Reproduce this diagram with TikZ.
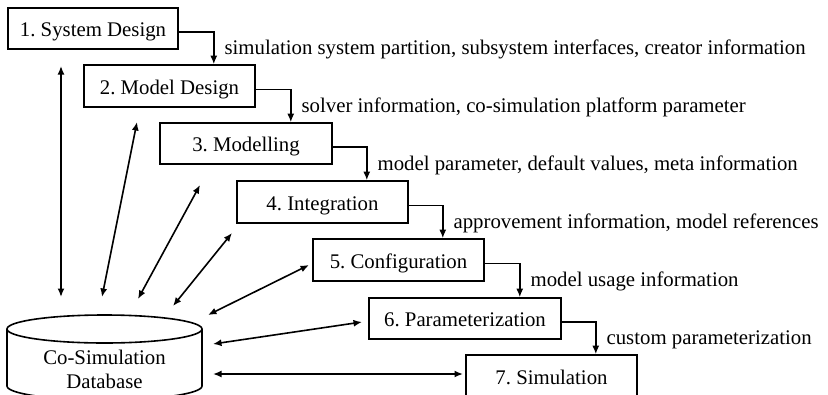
\documentclass[tikz,border=0pt]{standalone}
\usepackage{fontspec}
\setmainfont{Liberation Serif}
\frenchspacing
\usetikzlibrary{arrows.meta,calc}
\begin{document}
\begin{tikzpicture}[x=1pt,y=-1pt,
  every node/.style={font=\fontsize{20.8}{25}\selectfont},
  stagebox/.style={draw, line width=1.6pt, minimum width=171pt, minimum height=42pt, inner sep=0pt,
                   text height=16.7pt, text depth=0pt},
  flow/.style={line width=1.6pt, -{Latex[length=8.5pt,width=7pt]}},
  link/.style={line width=1.6pt, {Latex[length=8.5pt,width=7pt]}-{Latex[length=8.5pt,width=7pt]}},
  flowlabel/.style={anchor=west, inner sep=0pt}]
\clip (0,0) rectangle (828,394);
\useasboundingbox (0,0) rectangle (828,394);

% process stages
\node[stagebox, minimum width=170pt, minimum height=41pt] (b1) at (93,28.5) {1. System Design};
\node[stagebox] (b2) at (169.5,86) {2. Model Design};
\node[stagebox, minimum width=172pt, minimum height=41pt] (b3) at (246,143.5) {3. Modelling};
\node[stagebox] (b4) at (322.5,202) {4. Integration};
\node[stagebox] (b5) at (398.5,260) {5. Configuration};
\node[stagebox, minimum width=192pt, minimum height=41pt] (b6) at (465,318.5) {6. Parameterization};
\node[stagebox] (b7) at (551.5,376) {7. Simulation};

% hand-over between stages
\foreach \a/\b/\txt in {b1/b2/{simulation system partition, subsystem interfaces, creator information},
                        b2/b3/{solver information, co-simulation platform parameter},
                        b3/b4/{model parameter, default values, meta information},
                        b4/b5/{approvement information, model references},
                        b5/b6/{model usage information},
                        b6/b7/{custom parameterization}}{
  \draw[flow] ([yshift=-3.5pt]\a.east) -| ([xshift=-42pt]\b.north east)
    node[pos=0.75, right=10pt, yshift=-1.5pt, flowlabel] {\txt};
}

% database cylinder
\draw[line width=1.6pt] (104.5,329) ellipse [x radius=97.5, y radius=14];
\draw[line width=1.6pt] (7,329) -- (7,386) arc[start angle=180, end angle=360, x radius=97.5, y radius=-14] -- (202,329);
\node[align=center] (db) at (104.5,369.5) {Co-Simulation\\[-0.5pt]Database};

% exchange between stages and database
\coordinate (d1) at (61,297);   \coordinate (s1) at (61,66);
\coordinate (d2) at (102,297);  \coordinate (s2) at (137,122);
\coordinate (d3) at (138,299);  \coordinate (s3) at (200,185);
\coordinate (d4) at (173,306);  \coordinate (s4) at (232,233);
\coordinate (d5) at (208,315);  \coordinate (s5) at (309,265);
\coordinate (d6) at (213,344);  \coordinate (s6) at (362,322);
\coordinate (d7) at (213,374);  \coordinate (s7) at (463,374);
\foreach \i in {1,...,7}{
  \draw[link] (d\i) -- (s\i);
}
\end{tikzpicture}
\end{document}
